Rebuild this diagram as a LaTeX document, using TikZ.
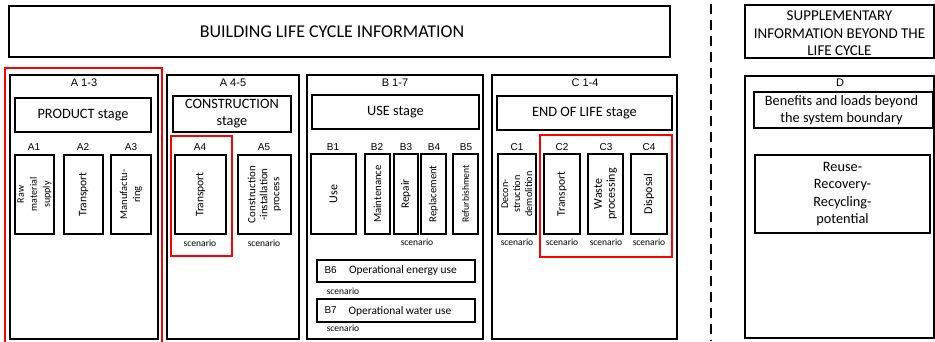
\documentclass[tikz,border=0pt]{standalone}
\usepackage{fontspec}
\setmainfont{Carlito}
\newfontfamily\codefont{Liberation Sans}
\usepackage{tikz}

\newcommand\fs[1]{\fontsize{#1}{1.12\dimexpr#1pt\relax}\selectfont}

\begin{document}
\begin{tikzpicture}[x=1pt, y=-1pt,
box/.style={draw, line width=1.3pt},
redbox/.style={draw=red, line width=2.8pt},
code/.style={font=\codefont\fs{10}},
grp/.style={font=\codefont\fs{11}},
scen/.style={font=\fs{9.5}},
vert/.style={rotate=90, align=center, font=\fs{11.5}},
stage/.style={align=center, font=\fontsize{14.3}{17}\selectfont}]
\useasboundingbox (0,0) rectangle (935,341);
% header row
\draw [box] (9,6) rectangle (670,57);
\node [font=\fs{18}] (blci) at (332,31.5) {BUILDING LIFE CYCLE INFORMATION};
\draw [box] (745,5) rectangle (934,58) node [midway, stage, font=\fontsize{15}{17.5}\selectfont, yshift=-2pt] (supp) {SUPPLEMENTARY\\INFORMATION BEYOND THE\\LIFE CYCLE};
\coordinate (sep top) at (711,4);
\coordinate (sep bot) at (711,341);
\draw [line width=1.3pt, dash pattern=on 10pt off 6pt] (sep top) -- (sep bot);
% A 1-3
\begin{scope}
\draw [redbox] (5,68) rectangle (162,350);
\draw [box] (10,75) rectangle (158,339);
\node [grp] (la13) at (84,83) {A 1-3};
\draw [box] (15,98) rectangle (151,132) node [midway, stage] (prod) {PRODUCT stage};
\node [code] (la1) at (34,147) {A1};
\draw [box] (15,155) rectangle (54,234) node [midway, vert, font=\fontsize{10}{13}\selectfont] (a1) {Raw\\material\\supply};
\node [code] (la2) at (83,147) {A2};
\draw [box] (64,155) rectangle (103,234) node [midway, vert] (a2) {Transport};
\node [code] (la3) at (131,147) {A3};
\draw [box] (111,155) rectangle (151,234) node [midway, vert, font=\fontsize{10.5}{13}\selectfont] (a3) {Manufactu-\\ring};
\end{scope}
% A 4-5
\begin{scope}
\draw [box] (167,75) rectangle (299,339);
\node [grp] (la45) at (233,83) {A 4-5};
\draw [box] (173,96) rectangle (291,132) node [midway, stage] (cons) {CONSTRUCTION\\stage};
\draw [redbox] (171,136) rectangle (232,256);
\node [code] (la4) at (200,147) {A4};
\draw [box] (175,155) rectangle (226,234) node [midway, vert] (a4) {Transport};
\node [scen] (sa4) at (200,243) {scenario};
\node [code] (la5) at (264,147) {A5};
\draw [box] (238,155) rectangle (291,234) node [midway, vert, font=\fontsize{11}{12}\selectfont] (a5) {Construction\\-installation\\process};
\node [scen] (sa5) at (264,243) {scenario};
\end{scope}
% B 1-7
\begin{scope}
\draw [box] (307,75) rectangle (483,339);
\node [grp] (lb17) at (395,83) {B 1-7};
\draw [box] (312,95) rectangle (479,129) node [midway, stage] (use) {USE stage};
\node [code] (lb1) at (333,147) {B1};
\draw [box] (311,154) rectangle (356,234) node [midway, vert, font=\fs{12}] (b1) {Use};
\node [code] (lb2) at (377,147) {B2};
\draw [box] (365,154) rectangle (390,234) node [midway, vert, font=\fs{10.8}] (b2) {Maintenance};
\node [code] (lb3) at (406,147) {B3};
\draw [box] (394,154) rectangle (418,234) node [midway, vert, font=\fs{11.3}] (b3) {Repair};
\node [code] (lb4) at (434,147) {B4};
\draw [box] (421,154) rectangle (446,234) node [midway, vert, font=\fs{10.7}] (b4) {Replacement};
\node [code] (lb5) at (466,147) {B5};
\draw [box] (453,154) rectangle (478,234) node [midway, vert, font=\fs{9.6}] (b5) {Refurbishment};
\node [scen] (sb) at (417,242) {scenario};
\draw [box] (317,260) rectangle (475,282);
\node [code, anchor=west] (lb6) at (321,270) {B6};
\node [font=\fs{11.4}] (b6) at (403,271) {Operational energy use};
\node [scen] (sb6) at (343,291) {scenario};
\draw [box] (317,299) rectangle (475,322);
\node [code, anchor=west] (lb7) at (321,310) {B7};
\node [font=\fs{11.4}] (b7) at (400,311) {Operational water use};
\node [scen] (sb7) at (343,328) {scenario};
\end{scope}
% C 1-4
\begin{scope}
\draw [box] (492,75) rectangle (677,339);
\node [grp] (lc14) at (585,83) {C 1-4};
\draw [box] (497,96) rectangle (672,130) node [midway, stage] (eol) {END OF LIFE stage};
\draw [redbox] (540,135) rectangle (672,257);
\node [code] (lc1) at (517,147) {C1};
\draw [box] (498,154) rectangle (536,234) node [midway, vert, font=\fontsize{10.2}{12}\selectfont] (c1) {Decon-\\struction\\demolition};
\node [scen] (sc1) at (517,242) {scenario};
\node [code] (lc2) at (562,147) {C2};
\draw [box] (544,154) rectangle (580,234) node [midway, vert] (c2) {Transport};
\node [scen] (sc2) at (562,242) {scenario};
\node [code] (lc3) at (606,147) {C3};
\draw [box] (588,154) rectangle (623,234) node [midway, vert, font=\fontsize{12}{13}\selectfont] (c3) {Waste\\processing};
\node [scen] (sc3) at (606,242) {scenario};
\node [code] (lc4) at (649,147) {C4};
\draw [box] (631,154) rectangle (667,234) node [midway, vert, font=\fs{12}] (c4) {Disposal};
\node [scen] (sc4) at (649,242) {scenario};
\end{scope}
% D
\begin{scope}
\draw [box] (745,76) rectangle (934,338);
\node [grp] (ld) at (840,83) {D};
\draw [box] (754,92) rectangle (933,128) node [midway, stage, font=\fontsize{14.3}{16.5}\selectfont, xshift=-2pt] (ben) {Benefits and loads beyond\\the system boundary};
\draw [box] (755,155) rectangle (930,233) node [midway, stage, font=\fontsize{14.3}{17.5}\selectfont] (rrr) {Reuse-\\Recovery-\\Recycling-\\potential};
\end{scope}
\end{tikzpicture}
\end{document}
